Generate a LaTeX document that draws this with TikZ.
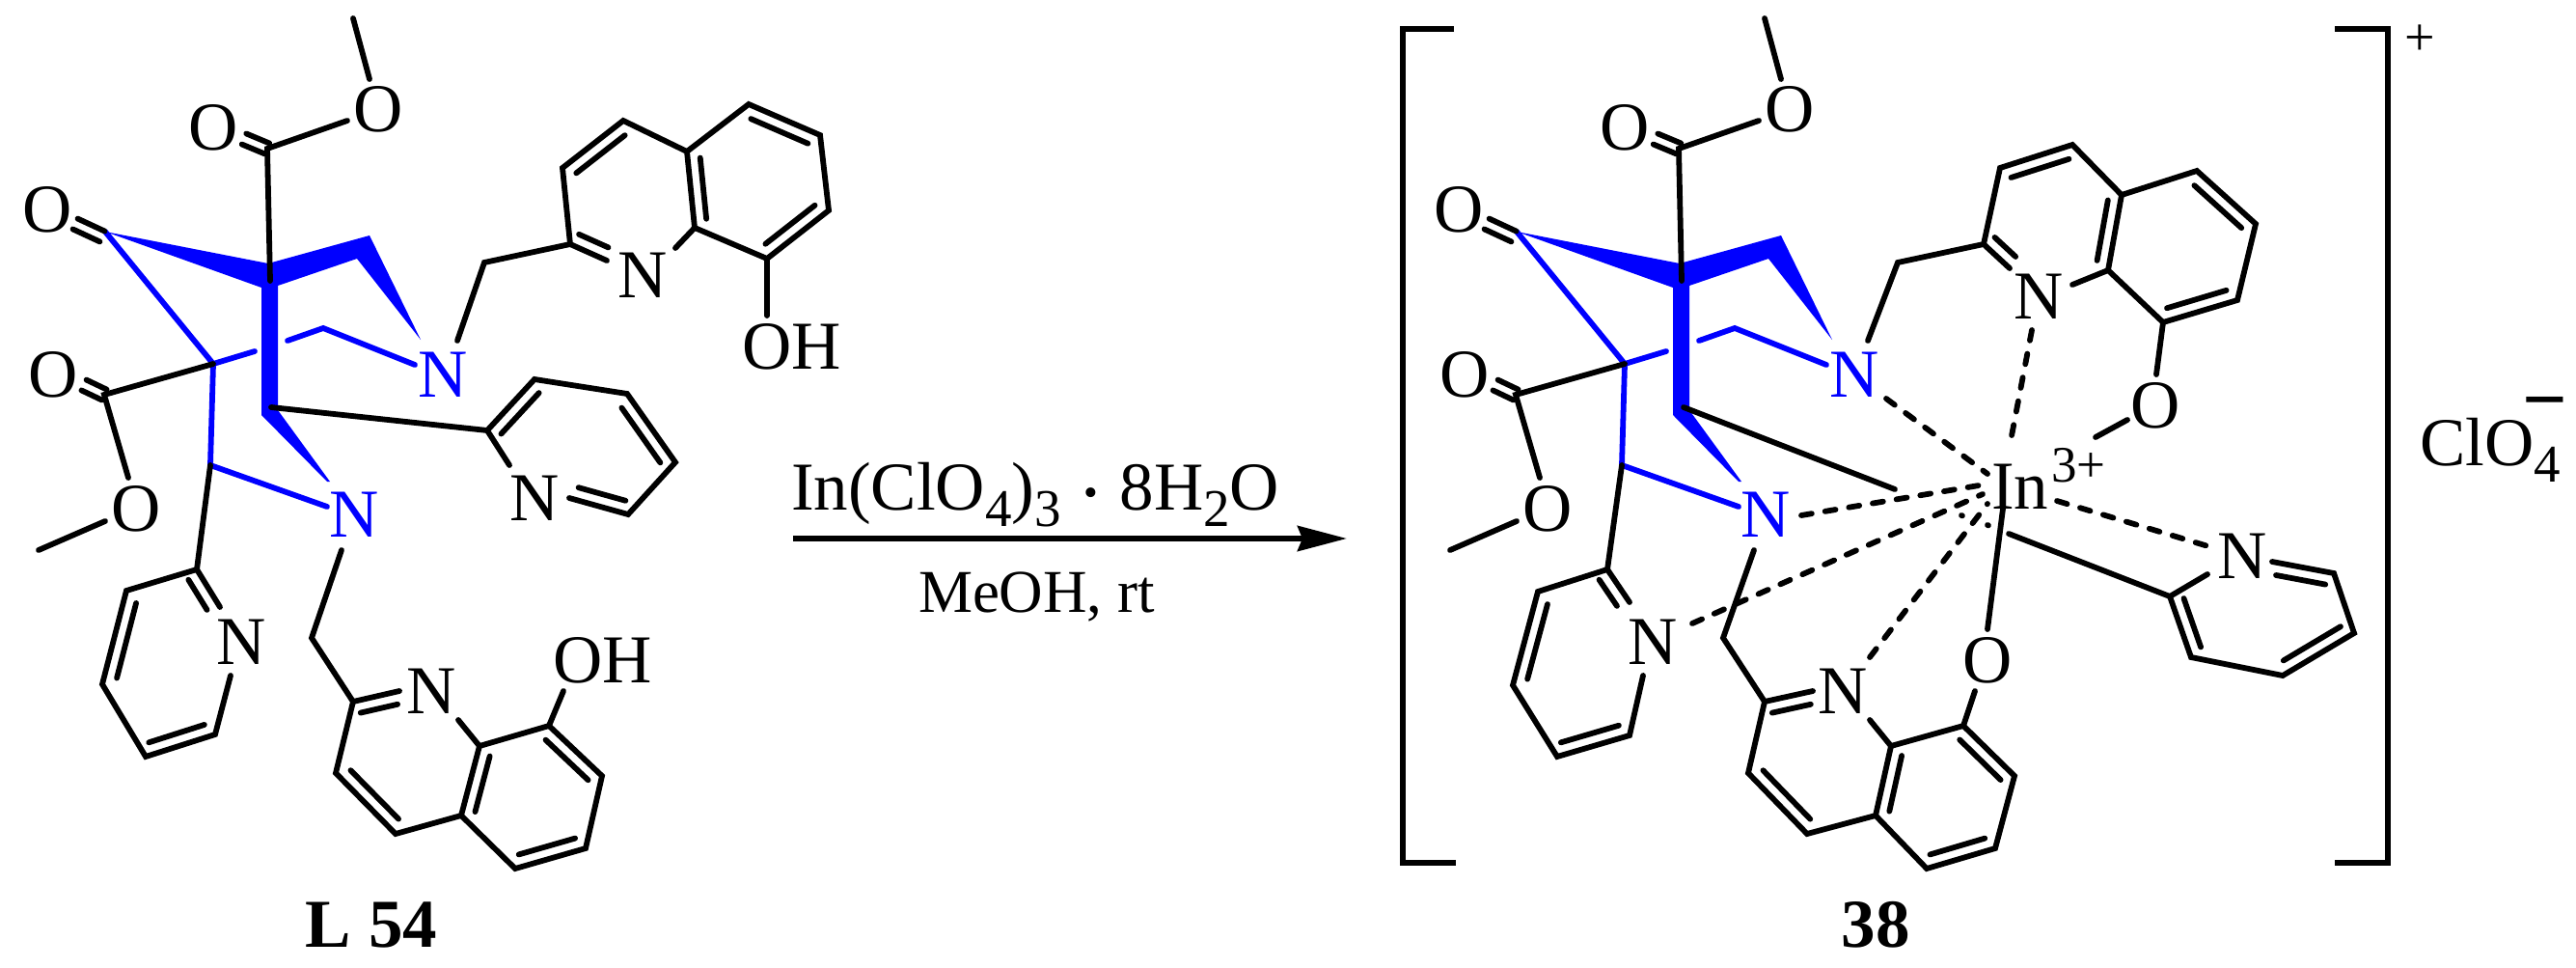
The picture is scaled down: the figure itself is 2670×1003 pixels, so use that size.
\documentclass[tikz,border=0pt]{standalone}
\usepackage{fontspec}
\setmainfont{Liberation Serif}
\usetikzlibrary{calc,arrows.meta}
\definecolor{ligblue}{RGB}{0,0,255}
\tikzset{
  x=1pt,y=-1pt,
  bond/.style={line width=5.8pt,line cap=round,line join=miter,draw=black},
  bbond/.style={bond,draw=ligblue},
  dashbond/.style={bond,dash pattern=on 11pt off 14pt},
  atom/.style={inner sep=0pt,outer sep=0pt,anchor=base,yshift=-23.5pt,font=\fontsize{71}{71}\selectfont},
  batom/.style={atom,text=ligblue},
  caption/.style={inner sep=0pt,outer sep=0pt,anchor=base,font=\fontsize{71}{71}\selectfont\bfseries},
  reagent/.style={inner sep=0pt,outer sep=0pt,anchor=base west,font=\fontsize{71}{71}\selectfont},
  bracket/.style={line width=6.5pt,line cap=butt,line join=miter},
}
\newcommand\pts[1]{\foreach \n/\x/\y in {#1}{\coordinate (\n) at (\x,\y);}}
% inner line of a double bond, beside the bond a--b
\newcommand\inbond[3]{\draw[bond] ($(#1)!.1!(#2)!13pt!#3:(#2)$) -- ($(#2)!.1!(#1)!13pt!-#3:(#1)$);}
% symmetric C=O double bond on axis p--q
\newcommand\twin[2]{\draw[bond] ($(#1)!6pt!90:(#2)$) -- ($(#2)!6pt!-90:(#1)$);
  \draw[bond] ($(#1)!6pt!-90:(#2)$) -- ($(#2)!6pt!90:(#1)$);}
\newcommand\sbs[1]{\raisebox{-17pt}{\fontsize{55}{55}\selectfont #1}}
\newcommand\core{%
  \pts{me/366/19, oa/383/82, c/277/154, ob/360/125, ca/253/144,
       q/280/291, k/109/240, ka/106/245, kb/78/232,
       wa/278/273, wb/278/298, wc/383/244, wd/370/268, we/288/296, tip/436/352,
       vb/288/425, lt/342/499, lu/339/499, vc/271/430,
       y/221/377, ya/264/364, yb/298/353, yc/335/340, yd/430/378,
       z/218/482, ze/339/525,
       e/108/409, ea/87/399, eb/133/495, ec/109/540, me2/40/570}
  \node[atom] (o1) at (392,113) {O};
  \node[atom] (o2) at (221,132) {O};
  \node[atom] (o3) at (49,217) {O};
  \node[atom] (o4) at (55,388) {O};
  \node[atom] (o5) at (141,527) {O};
  \node[batom] (n1) at (459,388) {N};
  \node[batom] (n2) at (367,533) {N};
  \fill[ligblue] (k) -- (wa) -- (wc) -- (tip) -- (wd) -- (we) -- (vb) -- (lt) -- (lu) -- (vc) -- (271,298) -- cycle;
  \draw[bbond] (k) -- (y) -- (ya);
  \draw[bbond] (yb) -- (yc) -- (yd);
  \draw[bbond] (y) -- (z) -- (ze);
  \draw[bond] (me) -- (oa);
  \draw[bond] (ob) -- (c) -- (q);
  \twin{c}{ca}
  \twin{ka}{kb}
  \twin{e}{ea}
  \draw[bond] (y) -- (e) -- (eb);
  \draw[bond] (ec) -- (me2);
}
\begin{document}
\begin{tikzpicture}
\useasboundingbox (0,0) rectangle (2670,1003);
% ---------- left molecule
\begin{scope}[name prefix=L-]
  \core
\end{scope}
\pts{P1/204/590, P2/131/612, P3/106/709, P4/151/784, P5/223/761, PNa/228/629, PNb/239/700,
     H1/354/570, H2/323/661, Q1/366/727, QNa/414/716, Q2/348/801, Q3/410/864, Q4/478/845, Q5/497/773,
     QNb/475/746, Q6/569/752, Q7/624/804, Q8/607/879, Q9/534/900, QO/584/716,
     Ust/281/422, U1/505/446, U2/554/393, U3/650/408, U4/700/479, U5/651/533, UNa/528/482, UNb/590/516,
     H3/474/353, H4/502/272, A1/591/253, A2/583/174, A3/646/125, A4/712/157, A5/720/236,
     ANa/629/270, ANb/700/257, A6/776/108, A7/850/140, A8/859/218, A9/795/268, AO/795/327}
\node[atom] (Lnp) at (250,665) {N};
\node[atom] (Lnq) at (447,716) {N};
\node[atom] (Lnu) at (554,516) {N};
\node[atom] (Lna) at (666,285) {N};
\node[atom] (Loh1) at (625,684) {OH};
\node[atom] (Loh2) at (821,359) {OH};
\draw[bond] (L-z) -- (P1);
\draw[bond] (PNa) -- (P1) -- (P2) -- (P3) -- (P4) -- (P5) -- (PNb);
\inbond{P1}{PNa}{-90}\inbond{P2}{P3}{90}\inbond{P4}{P5}{90}
\draw[bond] (H1) -- (H2) -- (Q1) -- (QNa);
\inbond{Q1}{QNa}{-90}
\draw[bond] (Q1) -- (Q2) -- (Q3) -- (Q4) -- (Q5) -- (QNb);
\draw[bond] (Q5) -- (Q6) -- (Q7) -- (Q8) -- (Q9) -- (Q4);
\inbond{Q2}{Q3}{90}\inbond{Q4}{Q5}{-90}\inbond{Q6}{Q7}{-90}\inbond{Q8}{Q9}{-90}
\draw[bond] (Q6) -- (QO);
\draw[bond] (Ust) -- (U1) -- (U2) -- (U3) -- (U4) -- (U5) -- (UNb);
\draw[bond] (U1) -- (UNa);
\inbond{U1}{U2}{-90}\inbond{U3}{U4}{-90}\inbond{U5}{UNb}{-90}
\draw[bond] (H3) -- (H4) -- (A1) -- (ANa);
\inbond{A1}{ANa}{90}
\draw[bond] (A1) -- (A2) -- (A3) -- (A4) -- (A5) -- (ANb);
\draw[bond] (A4) -- (A6) -- (A7) -- (A8) -- (A9) -- (A5);
\inbond{A2}{A3}{-90}\inbond{A4}{A5}{90}\inbond{A6}{A7}{-90}\inbond{A8}{A9}{-90}
\draw[bond] (A9) -- (AO);
\node[caption] (cap1) at (385,981) {L 54};
% ---------- reaction arrow
\coordinate (ar1) at (822,558);
\coordinate (ar2) at (1396,558);
\draw[line width=6pt,-{Stealth[length=51pt,width=26pt,inset=5pt]}] (ar1) -- (ar2);
\node[reagent] (rg1) at (820,528) {In(ClO\sbs{4})\sbs{3}\hspace{24pt}\raisebox{4pt}{\fontsize{42}{42}\selectfont\textbullet}\hspace{22pt}8H\sbs{2}O};
\node[reagent,font=\fontsize{63}{63}\selectfont] (rg2) at (952,634) {MeOH, rt};
% ---------- right molecule
\begin{scope}[name prefix=R-,xshift=1463pt]
  \core
\end{scope}
\pts{rP1/1666/590, rP2/1594/613, rP3/1568/710, rP4/1614/784, rP5/1689/762, rPNa/1689/624, rPNb/1703/700,
     rH1/1818/570, rH2/1786/661, rQ1/1829/727, rQNa/1879/716, rQ2/1812/801, rQ3/1873/864, rQ4/1944/845, rQ5/1960/773,
     rQNb/1938/746, rQ6/2035/752, rQ7/2088/804, rQ8/2068/879, rQ9/1997/900, rQO/2047/716,
     H5/1936/353, H6/1967/272, B1/2056/253, B2/2073/174, B3/2148/150, B4/2199/202, B5/2185/280,
     BNa/2083/278, BNb/2148/295, B6/2277/177, B7/2338/232, B8/2319/311, B9/2242/334, BO/2235/388,
     O1a/2205/435, O1b/2172/453, O2a/2060/652, O2b/2076/527,
     Ust2/1745/422, Uen2/1964/507, Udot1/2033/534, Udot2/2060/544, Ubeg/2082/553,
     S1/2249/618, SNa/2288/595, SNb/2355/582, S2/2419/594, S3/2440/656, S4/2366/700, S5/2271/681,
     d1a/2106/342, d1b/2083/462, d2a/1955/413, d2b/2060/491, d3a/1867/534, d3b/2057/502,
     d4a/1754/646, d4b/2055/512, d5a/1938/681, d5b/2060/522, d6a/2132/519, d6b/2292/567}
\node[atom] (Rnp) at (1713,665) {N};
\node[atom] (Rnq) at (1910,716) {N};
\node[atom] (Rna) at (2113,307) {N};
\node[atom] (Rnu) at (2324,576) {N};
\node[atom] (Ro1) at (2060,684) {O};
\node[atom] (Ro2) at (2234,420) {O};
\node[inner sep=0pt,outer sep=0pt,anchor=base west,font=\fontsize{71}{71}\selectfont] (In) at (2064,527) {In};
\node[inner sep=0pt,outer sep=0pt,anchor=base west,font=\fontsize{53}{53}\selectfont] (InC) at (2126,499) {3+};
\draw[bond] (R-z) -- (rP1);
\draw[bond] (rPNa) -- (rP1) -- (rP2) -- (rP3) -- (rP4) -- (rP5) -- (rPNb);
\inbond{rP1}{rPNa}{-90}\inbond{rP2}{rP3}{90}\inbond{rP4}{rP5}{90}
\draw[bond] (rH1) -- (rH2) -- (rQ1) -- (rQNa);
\inbond{rQ1}{rQNa}{-90}
\draw[bond] (rQ1) -- (rQ2) -- (rQ3) -- (rQ4) -- (rQ5) -- (rQNb);
\draw[bond] (rQ5) -- (rQ6) -- (rQ7) -- (rQ8) -- (rQ9) -- (rQ4);
\inbond{rQ2}{rQ3}{90}\inbond{rQ4}{rQ5}{-90}\inbond{rQ6}{rQ7}{-90}\inbond{rQ8}{rQ9}{-90}
\draw[bond] (rQ6) -- (rQO);
\draw[bond] (H5) -- (H6) -- (B1) -- (BNa);
\inbond{B1}{BNa}{90}
\draw[bond] (B1) -- (B2) -- (B3) -- (B4) -- (B5) -- (BNb);
\draw[bond] (B4) -- (B6) -- (B7) -- (B8) -- (B9) -- (B5);
\inbond{B2}{B3}{-90}\inbond{B4}{B5}{-90}\inbond{B6}{B7}{-90}\inbond{B8}{B9}{-90}
\draw[bond] (B9) -- (BO);
\draw[bond] (O1a) -- (O1b);
\draw[bond] (O2a) -- (O2b);
\draw[bond] (Ust2) -- (Uen2);
\draw[bond] (Udot1) -- ++(1,0.4);
\draw[bond] (Udot2) -- ++(1,0.4);
\draw[bond] (Ubeg) -- (S1) -- (SNa);
\draw[bond] (SNb) -- (S2) -- (S3) -- (S4) -- (S5) -- (S1);
\inbond{S2}{SNb}{90}\inbond{S3}{S4}{-90}\inbond{S5}{S1}{-90}
\draw[dashbond] (d1a) -- (d1b);
\draw[dashbond] (d2a) -- (d2b);
\draw[dashbond] (d3a) -- (d3b);
\draw[dashbond] (d4a) -- (d4b);
\draw[dashbond] (d5a) -- (d5b);
\draw[dashbond] (d6a) -- (d6b);
% brackets and charges
\pts{bl1/1507/30, bl2/1454/30, bl3/1454/894, bl4/1509/894, br1/2420/30, br2/2475/30, br3/2475/894, br4/2420/894}
\draw[bracket] (bl1) -- (bl2) -- (bl3) -- (bl4);
\draw[bracket] (br1) -- (br2) -- (br3) -- (br4);
\node[inner sep=0pt,outer sep=0pt,font=\fontsize{56}{56}\selectfont] (chg) at (2508,42) {+};
\node[reagent] (clo) at (2508,482) {ClO\sbs{4}};
\node[inner sep=0pt,outer sep=0pt,font=\fontsize{82}{82}\selectfont\bfseries] (minus) at (2638,426) {−};
\node[caption] (cap2) at (1944,981) {38};
\end{tikzpicture}
\end{document}
